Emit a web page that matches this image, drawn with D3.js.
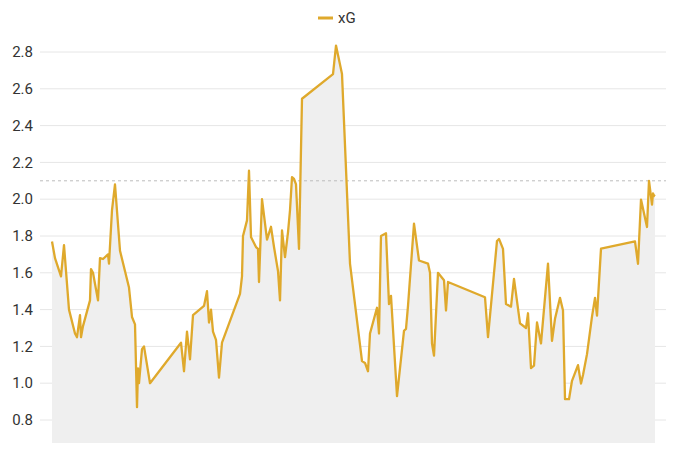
<!DOCTYPE html>
<html>
<head>
<meta charset="utf-8">
<script src="https://cdn.jsdelivr.net/npm/d3@7"></script>
<style>
  html, body { margin: 0; padding: 0; background: #fff; }
  svg { display: block; font-family: Roboto, "Noto Sans", sans-serif; }
</style>
</head>
<body>
<svg id="chart" width="680" height="467"></svg>
<script>
// Match index (x position along the season) and xG values
const matchIndex = [0,3,9,12,17,23,25,28,29,31,38,39,41,46,48,51,56,57,60,63,68,77,80,83,85,86,87,90,92,98,
  129,132,135,138,141,152,155,157,159,161,164,167,170,188,190,191,195,197,199,204,206,207,210,215,219,222,226,228,230,233,
  236,238,240,242,244,247,250,281,284,290,298,310,313,316,318,325,327,329,334,337,339,345,352,354,356,362,367,376,378,380,
  382,386,389,392,394,396,433,436,445,447,451,454,459,462,468,474,476,479,482,485,489,496,500,503,508,511,513,517,520,526,
  529,531,535,540,543,545,549,583,586,589,595,597,600,601,602,603];
const xgValues = [1.77,1.68,1.58,1.75,1.40,1.27,1.25,1.37,1.25,1.31,1.45,1.62,1.60,1.45,1.68,1.675,1.70,1.65,1.94,2.08,1.72,1.52,1.36,1.32,0.87,1.08,1.00,1.185,1.20,1.00,
  1.22,1.065,1.28,1.13,1.37,1.42,1.50,1.33,1.40,1.28,1.235,1.03,1.22,1.485,1.58,1.80,1.885,2.155,1.795,1.74,1.73,1.55,2.00,1.78,1.85,1.74,1.61,1.45,1.83,1.685,
  1.82,1.94,2.12,2.11,2.08,1.73,2.546,2.68,2.835,2.68,1.65,1.12,1.11,1.065,1.27,1.41,1.27,1.80,1.815,1.43,1.475,0.93,1.285,1.295,1.42,1.867,1.667,1.65,1.60,1.216,
  1.15,1.60,1.58,1.56,1.395,1.55,1.467,1.25,1.773,1.784,1.73,1.43,1.416,1.567,1.325,1.30,1.38,1.082,1.095,1.33,1.216,1.65,1.23,1.35,1.464,1.395,0.913,0.913,1.013,1.098,
  0.998,1.045,1.158,1.362,1.464,1.367,1.731,1.771,1.649,1.998,1.849,2.10,1.971,2.031,2.02,2.016];
const yTicks = [0.8,1.0,1.2,1.4,1.6,1.8,2.0,2.2,2.4,2.6,2.8];
const referenceLine = 2.1;
const seriesName = "xG";

const data = matchIndex.map((d, i) => ({x: d, y: xgValues[i]}));

const svg = d3.select("#chart");
const gridLeft = 40, gridRight = 666;
const x = d3.scaleLinear().domain([0, 603]).range([52, 655]);
const y = d3.scaleLinear().domain([0.675, 2.9]).range([443, 443 - 2.225 * 184]);

const lineColor = "#DFA92C";

// gridlines
svg.append("g").selectAll("line").data(yTicks).join("line")
  .attr("x1", gridLeft).attr("x2", gridRight)
  .attr("y1", d => y(d)).attr("y2", d => y(d))
  .attr("stroke", "#e6e6e6").attr("stroke-width", 1);

// tick labels
svg.append("g").selectAll("text").data(yTicks).join("text")
  .attr("x", 33).attr("y", d => y(d))
  .attr("dy", "0.35em")
  .attr("text-anchor", "end")
  .attr("font-size", 15)
  .attr("fill", "#333")
  .text(d => d3.format(".1f")(d));

// area
svg.append("path").datum(data)
  .attr("fill", "#efefef")
  .attr("d", d3.area().x(d => x(d.x)).y0(y(0.675)).y1(d => y(d.y)));

// reference dashed line
svg.append("line")
  .attr("x1", gridLeft).attr("x2", gridRight)
  .attr("y1", y(referenceLine)).attr("y2", y(referenceLine))
  .attr("stroke", "#bdbdbd").attr("stroke-width", 1)
  .attr("stroke-dasharray", "3,3");

// line
svg.append("path").datum(data)
  .attr("fill", "none")
  .attr("stroke", lineColor)
  .attr("stroke-width", 2.3)
  .attr("stroke-linejoin", "round")
  .attr("d", d3.line().x(d => x(d.x)).y(d => y(d.y)));

// legend
const lg = svg.append("g");
lg.append("line").attr("x1", 318).attr("x2", 333).attr("y1", 18).attr("y2", 18)
  .attr("stroke", lineColor).attr("stroke-width", 3);
lg.append("text").attr("x", 338).attr("y", 18).attr("dy", "0.35em")
  .attr("font-size", 15).attr("fill", "#333").text(seriesName);
</script>
</body>
</html>
